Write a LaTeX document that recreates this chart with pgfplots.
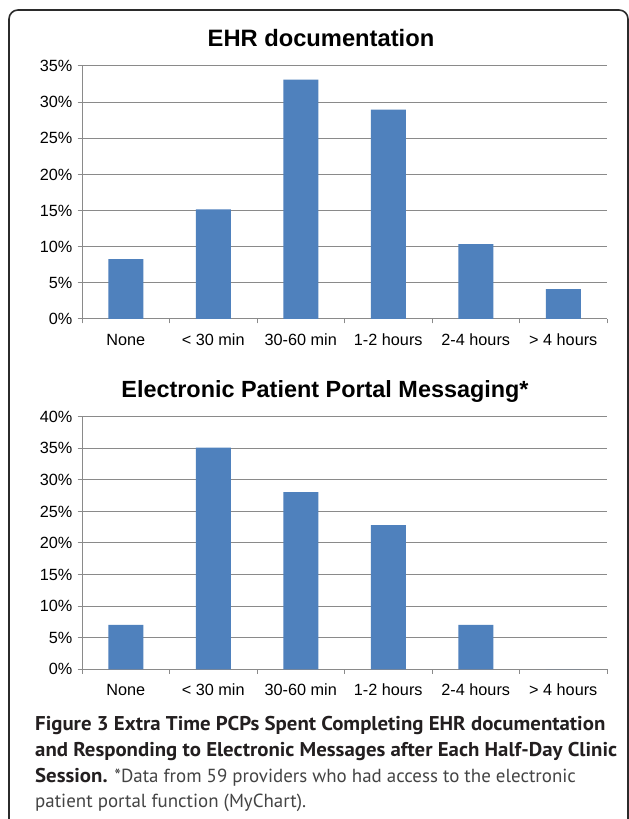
\documentclass[border=0pt]{standalone}
\usepackage{pgfplots}
\pgfplotsset{compat=1.18}
\usepackage{fontspec}
\setmainfont{Liberation Sans}
\newfontfamily\capfont[BoldFeatures={FakeStretch=1.045}]{PT Sans}
\definecolor{barblue}{HTML}{4F81BD}
\definecolor{gridgray}{HTML}{8A8A8A}
\definecolor{bordergray}{HTML}{2B2B2B}
\definecolor{capblack}{HTML}{231F20}
\definecolor{capgray}{HTML}{444444}
\pgfplotsset{
  chartax/.style={
    anchor=south west,
    scale only axis,
    width=525bp,
    xmin=-0.5, xmax=5.5, ymin=0,
    axis x line*=bottom, axis y line*=left,
    axis line style={draw=gridgray, line width=1bp},
    ymajorgrids,
    grid style={draw=gridgray, line width=1bp},
    tick align=outside,
    major tick length=4.5bp,
    tick style={draw=gridgray, line width=1bp},
    xtick={-0.5,0.5,1.5,2.5,3.5,4.5,5.5},
    x tick label as interval,
    xticklabels={None,{< 30 min},{30-60 min},{1-2 hours},{2-4 hours},{> 4 hours},{}},
    tick label style={font=\fontsize{16.3}{19}\selectfont, text=black},
    yticklabel style={anchor=east, inner sep=0pt, xshift=-5bp},
    xticklabel style={anchor=base, inner sep=0pt, yshift=-22bp},
    ybar, bar width=35bp,
    clip=false,
  }
}
\begin{document}
\begin{tikzpicture}[x=1bp,y=1bp]
\useasboundingbox (0,0) rectangle (629,819);
\clip (0,0) rectangle (629,819);
\fill[white] (0,0) rectangle (629,819);
\draw[line width=1.6bp, draw=bordergray, rounded corners=9bp] (9,809) rectangle (628,-50);

\begin{axis}[chartax, at={(82bp,500bp)}, height=253bp, ymax=35,
  ytick={0,5,10,15,20,25,30,35},
  yticklabels={0\%,5\%,10\%,15\%,20\%,25\%,30\%,35\%}]
\addplot[fill=barblue, draw=none] coordinates {(0,8.28) (1,15.17) (2,33.10) (3,28.97) (4,10.34) (5,4.14)};
\end{axis}

\begin{axis}[chartax, at={(82bp,149.7bp)}, height=252.6bp, ymax=40,
  ytick={0,5,10,15,20,25,30,35,40},
  yticklabels={0\%,5\%,10\%,15\%,20\%,25\%,30\%,35\%,40\%}]
\addplot[fill=barblue, draw=none] coordinates {(0,7.02) (1,35.09) (2,28.07) (3,22.81) (4,7.02) (5,0)};
\end{axis}

\node[anchor=base, inner sep=0pt, font=\bfseries\fontsize{23.8}{28}\selectfont] at (321,772) {EHR documentation};
\node[anchor=base, inner sep=0pt, font=\bfseries\fontsize{23.5}{28}\selectfont] at (325,421) {Electronic Patient Portal Messaging*};

\begin{scope}[every node/.style={anchor=base west, inner sep=0pt, text=capblack, font=\capfont\fontsize{19}{23}\selectfont}]
\node at (35,88) {\fontsize{20}{23}\selectfont\bfseries Figure 3 Extra Time PCPs Spent Completing EHR documentation};
\node at (35,62) {\fontsize{20}{23}\selectfont\bfseries and Responding to Electronic Messages after Each Half-Day Clinic};
\node at (35,36) {{\fontsize{20}{23}\selectfont\bfseries Session.} \textcolor{capgray}{*Data from 59 providers who had access to the electronic}};
\node[text=capgray] at (35,11) {patient portal function (MyChart).};
\end{scope}
\end{tikzpicture}
\end{document}
